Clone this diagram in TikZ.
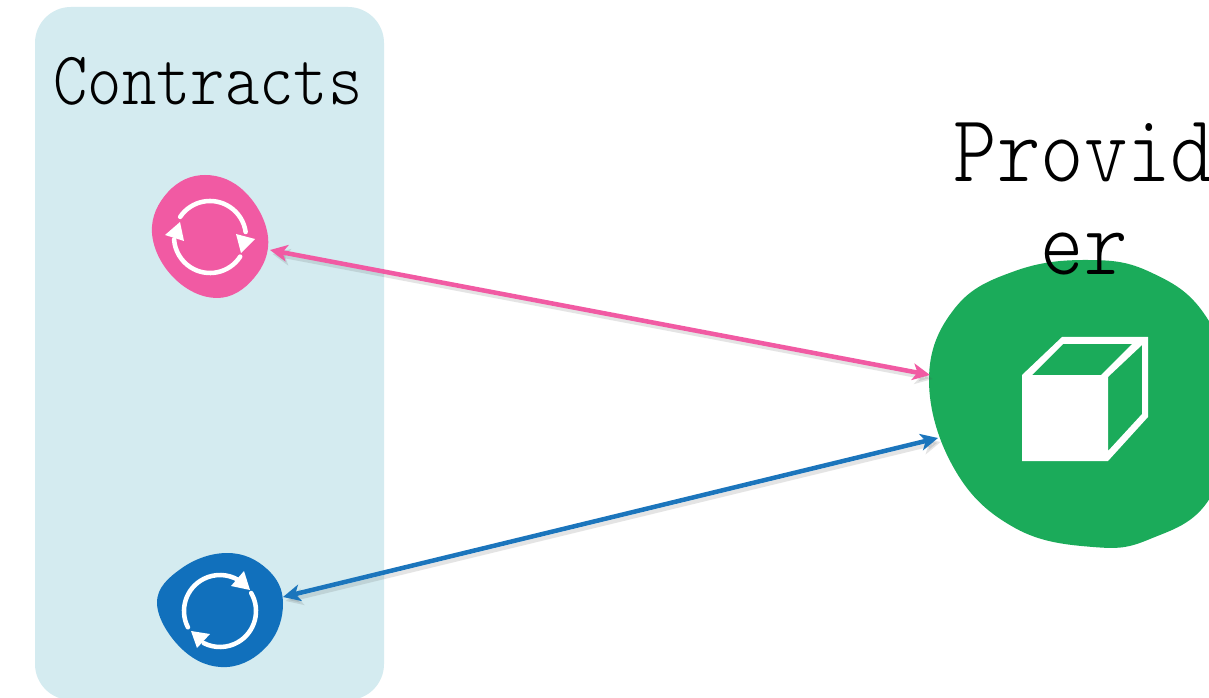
\documentclass[tikz,border=0pt]{standalone}
\usepackage{graphicx}
\usepackage{fontspec}
\newfontfamily\lightmono{Latin Modern Mono Light}
\usetikzlibrary{arrows.meta}
\definecolor{panelc}{HTML}{D4EBF0}
\definecolor{pinkc}{HTML}{F15AA3}
\definecolor{bluec}{HTML}{1170BC}
\definecolor{arrowblue}{HTML}{1B75BC}
\definecolor{greenc}{HTML}{1BAB5A}
\newcommand{\tallglyphs}[1]{\scalebox{1}[1.16]{#1}}
\tikzset{
  labeltext/.style={font=\lightmono\fontsize{#1}{70}\selectfont,text=black,inner sep=0pt,align=center},
  tipboth/.style={{Stealth[length=13pt,width=12.5pt,inset=3.5pt]}-{Stealth[length=13pt,width=12.5pt,inset=3.5pt]}},
  link/.style={line width=3.4pt,tipboth,
    preaction={draw=black!70,opacity=.15,line width=3pt,transform canvas={shift={(2pt,-3pt)}}}},
  iconline/.style={draw=white,line width=3.4pt,line cap=round},
  iconfill/.style={fill=white,draw=none},
  blobshape/.style={smooth cycle,tension=.68},
}
\begin{document}
\begin{tikzpicture}[x=0.75pt,y=-0.75pt]
\useasboundingbox (0,0) rectangle (1209,698);
\clip (0,0) rectangle (1209,698);
\fill[white] (0,0) rectangle (1209,698);
% panel
\fill[panelc,rounded corners=27pt] (35,7) rectangle (384,700);
% pink blob
\fill[pinkc] plot[blobshape] coordinates {(205,175)(245,192)(268,237)(254,278)(217,298)(174,278)(152,233)(168,192)};
\draw[iconline] (210,237) ++(-146:36) arc[start angle=-146,end angle=-8,radius=36];
\draw[iconline] (210,237) ++(33:36) arc[start angle=33,end angle=176,radius=36];
\fill[iconfill] (236,234)--(255,239)--(241,253)--cycle;
\fill[iconfill] (165,235)--(180,222)--(184,241)--cycle;
% blue blob
\fill[bluec] plot[blobshape] coordinates {(228,553)(267,569)(283,603)(268,645)(227,667)(183,650)(157,603)(182,568)};
\draw[iconline] (220,611) ++(153:36) arc[start angle=153,end angle=300,radius=36];
\draw[iconline] (220,611) ++(-30:36) arc[start angle=-30,end angle=117,radius=36];
\fill[iconfill] (231,586)--(244,571)--(250,590)--cycle;
\fill[iconfill] (191,631)--(210,634)--(197,648)--cycle;
% green blob
\fill[greenc] plot[blobshape] coordinates {(1088,260)(1150,272)(1205,315)(1236,400)(1210,498)(1150,539)(1093,547)(1015,528)(955,470)(929,380)(955,308)(1015,271)};
% cube
\fill[white,even odd rule] (1022,375)--(1062,337)--(1148,337)--(1148,417)--(1108,461)--(1022,461)--cycle
  (1032,375)--(1063,344)--(1132,344)--(1101,375)--cycle
  (1108,377)--(1142,345)--(1142,414)--(1108,451)--cycle;
% ports
\coordinate (pinkport) at (270,250);
\coordinate (greenportA) at (930,375);
\coordinate (blueport) at (283,597);
\coordinate (greenportB) at (938,438);
\draw[link,draw=pinkc] (pinkport) -- (greenportA);
\draw[link,draw=arrowblue] (blueport) -- (greenportB);
% labels
\node[labeltext=49,anchor=base] (contracts) at (208,105) {\tallglyphs{Contracts}};
\node[labeltext=62,anchor=base] (provider) at (1084,275) {\tallglyphs{Provid}\\\tallglyphs{er}};
\end{tikzpicture}
\end{document}
